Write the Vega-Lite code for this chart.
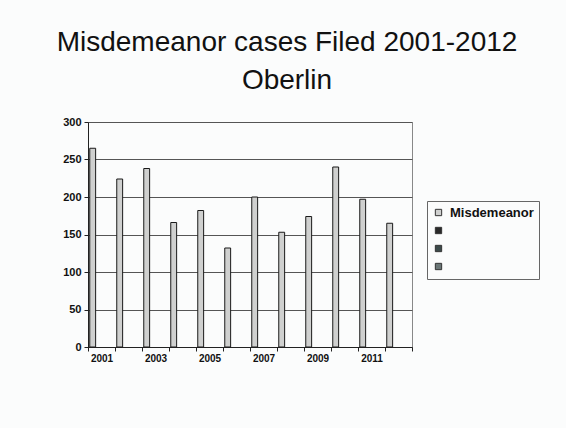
{
  "$schema": "https://vega.github.io/schema/vega-lite/v6.json",
  "autosize": {"type": "none"},
  "width": 324,
  "height": 225,
  "padding": {"left": 88, "top": 122, "right": 154, "bottom": 81},
  "background": "#fbfcfc",
  "title": {
    "text": ["Misdemeanor cases Filed 2001-2012", "Oberlin"],
    "fontSize": 28,
    "fontWeight": "normal",
    "font": "Liberation Sans",
    "color": "#111111",
    "anchor": "middle",
    "frame": "group",
    "dx": 37,
    "lineHeight": 38,
    "offset": 21
  },
  "data": {
    "values": [
      {"year": 2001, "series": "Misdemeanor", "cases": 265},
      {"year": 2002, "series": "Misdemeanor", "cases": 224},
      {"year": 2003, "series": "Misdemeanor", "cases": 238},
      {"year": 2004, "series": "Misdemeanor", "cases": 166},
      {"year": 2005, "series": "Misdemeanor", "cases": 182},
      {"year": 2006, "series": "Misdemeanor", "cases": 132},
      {"year": 2007, "series": "Misdemeanor", "cases": 200},
      {"year": 2008, "series": "Misdemeanor", "cases": 153},
      {"year": 2009, "series": "Misdemeanor", "cases": 174},
      {"year": 2010, "series": "Misdemeanor", "cases": 240},
      {"year": 2011, "series": "Misdemeanor", "cases": 197},
      {"year": 2012, "series": "Misdemeanor", "cases": 165}
    ]
  },
  "mark": {"type": "bar", "stroke": "#1a1a1a", "strokeWidth": 1},
  "encoding": {
    "x": {
      "field": "year",
      "type": "ordinal",
      "scale": {"paddingInner": 0, "paddingOuter": 0},
      "axis": {
        "title": null,
        "labelAngle": 0,
        "tickBand": "extent",
        "labelExpr": "datum.value % 2 == 1 ? datum.label : ''",
        "labelFont": "Liberation Sans",
        "labelFontSize": 10,
        "labelFontWeight": "bold",
        "labelColor": "#111111",
        "domainColor": "#222222",
        "tickColor": "#222222",
        "tickSize": 4,
        "labelPadding": 2
      }
    },
    "xOffset": {
      "field": "series",
      "type": "nominal",
      "scale": {"domain": ["Misdemeanor", " ", "  ", "   "], "paddingOuter": 0.3, "paddingInner": 0}
    },
    "y": {
      "field": "cases",
      "type": "quantitative",
      "scale": {"domain": [0, 300]},
      "axis": {
        "title": null,
        "values": [0, 50, 100, 150, 200, 250, 300],
        "labelFont": "Liberation Sans",
        "labelFontSize": 11,
        "labelFontWeight": "bold",
        "labelColor": "#111111",
        "domainColor": "#222222",
        "tickColor": "#222222",
        "tickSize": 4,
        "labelPadding": 3,
        "grid": true,
        "gridColor": "#555555",
        "gridWidth": 1
      }
    },
    "color": {
      "field": "series",
      "type": "nominal",
      "scale": {
        "domain": ["Misdemeanor", " ", "  ", "   "],
        "range": ["#cfd0cf", "#2a2a2a", "#3c4a4a", "#6a7676"]
      },
      "legend": {
        "title": null,
        "orient": "none",
        "legendX": 339,
        "legendY": 79,
        "symbolType": "square",
        "symbolSize": 40,
        "symbolStrokeColor": "#333333",
        "symbolStrokeWidth": 1,
        "labelFont": "Liberation Sans",
        "labelFontSize": 13,
        "labelFontWeight": "bold",
        "labelColor": "#111111",
        "labelOffset": 5,
        "rowPadding": 4,
        "padding": 5,
        "strokeColor": "#666666",
        "fillColor": "#fbfcfc"
      }
    }
  },
  "config": {
    "font": "Liberation Sans",
    "view": {"stroke": "#888888", "strokeWidth": 1}
  }
}
